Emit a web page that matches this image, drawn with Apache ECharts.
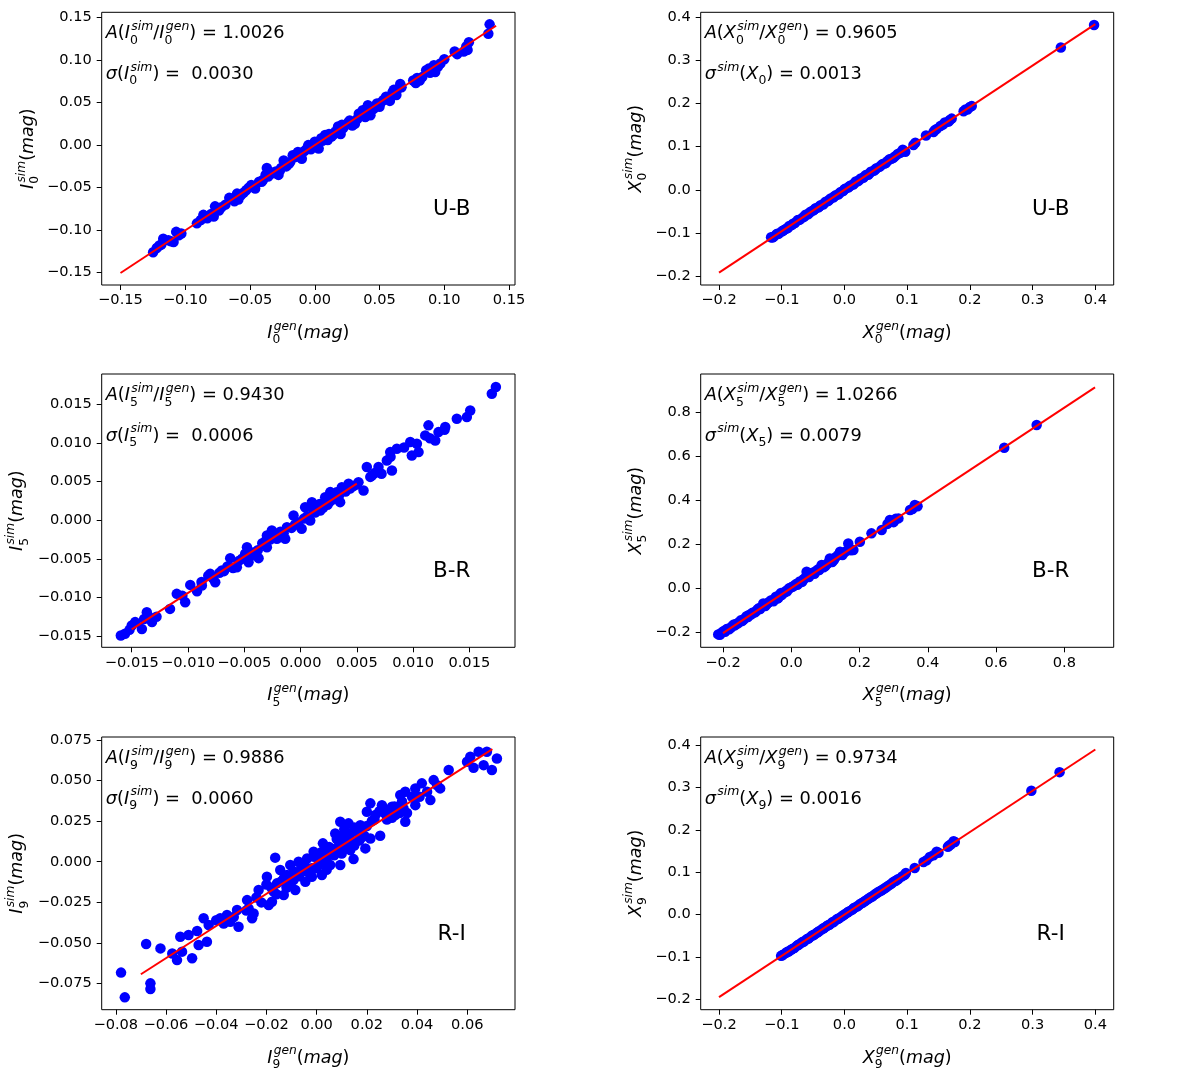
<!DOCTYPE html>
<html>
<head>
<meta charset="utf-8">
<script src="https://cdn.jsdelivr.net/npm/echarts@6.0.0/dist/echarts.min.js"></script>
<style>
html, body { margin: 0; padding: 0; background: #fff; }
#chart { width: 1200px; height: 1073px; }
</style>
</head>
<body>
<div id="chart"></div>
<script>
// ---- data ----
// U-B, I0
let ubIGen = [-0.1248,-0.122,-0.1185,-0.117,-0.113,-0.109,-0.107,-0.103,-0.091,-0.086,-0.083,-0.078,-0.077,-0.072,-0.069,-0.066,-0.062,-0.060,-0.059,-0.055,-0.053,-0.049,-0.046,-0.043,-0.040,-0.037,-0.036,-0.034,-0.032,-0.028,-0.026,-0.024,-0.022,-0.019,-0.017,-0.013,-0.010,-0.008,-0.005,-0.002,0.000,0.003,0.006,0.008,0.010,0.013,0.016,0.018,0.020,0.022,0.024,0.026,0.029,0.031,0.034,0.037,0.039,0.041,0.043,0.046,0.048,0.050,0.053,0.055,0.058,0.061,0.063,0.066,0.067,0.076,0.078,0.081,0.086,0.089,0.092,0.093,0.097,0.108,0.115,0.117,0.119,0.134,0.135,
  -0.120,-0.111,-0.105,-0.088,-0.080,-0.074,-0.064,-0.057,-0.051,-0.047,-0.041,-0.038,-0.030,-0.027,-0.020,-0.015,-0.011,-0.006,-0.003,0.002,0.005,0.011,0.015,0.021,0.027,0.033,0.036,0.040,0.045,0.051,0.056,0.060,0.064,0.079,0.083,0.088,0.095,0.100,0.110,0.118];
let ubISim = [-0.126,-0.121,-0.117,-0.110,-0.112,-0.114,-0.102,-0.104,-0.092,-0.082,-0.086,-0.084,-0.072,-0.073,-0.070,-0.062,-0.066,-0.057,-0.064,-0.056,-0.053,-0.047,-0.051,-0.043,-0.041,-0.027,-0.037,-0.032,-0.033,-0.035,-0.027,-0.018,-0.025,-0.020,-0.012,-0.008,-0.016,-0.007,0.000,-0.002,0.004,-0.004,0.005,0.012,0.006,0.010,0.016,0.022,0.013,0.020,0.024,0.027,0.023,0.025,0.037,0.041,0.033,0.047,0.035,0.044,0.049,0.045,0.053,0.057,0.052,0.065,0.059,0.072,0.068,0.076,0.073,0.076,0.088,0.085,0.094,0.086,0.096,0.110,0.110,0.116,0.121,0.131,0.142,
  -0.118,-0.113,-0.106,-0.088,-0.081,-0.077,-0.063,-0.059,-0.050,-0.049,-0.043,-0.035,-0.031,-0.030,-0.022,-0.014,-0.010,-0.004,-0.005,0.001,0.008,0.013,0.013,0.024,0.029,0.031,0.038,0.043,0.042,0.050,0.054,0.062,0.066,0.079,0.080,0.090,0.092,0.101,0.107,0.112];
// U-B, X0
let ubXGen = [-0.117,-0.113,-0.109,-0.105,-0.100,-0.096,-0.092,-0.088,-0.084,-0.079,-0.075,-0.071,-0.066,-0.062,-0.058,-0.054,-0.050,-0.046,-0.042,-0.038,-0.034,-0.030,-0.026,-0.022,-0.018,-0.014,-0.010,-0.006,-0.002,0.002,0.006,0.010,0.014,0.018,0.022,0.026,0.030,0.034,0.038,0.042,0.047,0.051,0.056,0.061,0.066,0.072,0.078,0.085,0.093,0.097,0.110,0.113,0.130,0.142,0.147,0.153,0.160,0.166,0.171,0.190,0.196,0.200,0.203,0.345,0.398,
  -0.115,-0.107,-0.098,-0.090,-0.082,-0.073,-0.064,-0.056,-0.048,-0.040,-0.032,-0.024,-0.016,-0.008,0.000,0.008,0.016,0.024,0.032,0.040,0.049,0.058,0.064,0.069,0.075,0.081,0.089,0.144,0.157,0.168,0.193];
let ubXSim = [-0.110,-0.109,-0.104,-0.102,-0.097,-0.093,-0.090,-0.084,-0.082,-0.077,-0.071,-0.069,-0.064,-0.058,-0.057,-0.051,-0.048,-0.043,-0.041,-0.036,-0.034,-0.028,-0.026,-0.020,-0.018,-0.013,-0.011,-0.005,-0.003,0.003,0.005,0.010,0.012,0.019,0.020,0.026,0.028,0.034,0.035,0.042,0.044,0.050,0.053,0.060,0.062,0.071,0.074,0.083,0.093,0.088,0.104,0.109,0.126,0.134,0.141,0.148,0.156,0.158,0.165,0.182,0.186,0.192,0.194,0.330,0.382,
  -0.111,-0.102,-0.095,-0.088,-0.079,-0.070,-0.062,-0.054,-0.046,-0.039,-0.031,-0.023,-0.015,-0.008,0.001,0.008,0.015,0.023,0.031,0.038,0.047,0.056,0.061,0.067,0.072,0.078,0.086,0.138,0.151,0.162,0.186];
// B-R, I5
let brIGen = [-0.01597,-0.0156,-0.0150,-0.0147,-0.0141,-0.01366,-0.0134,-0.0132,-0.0116,-0.0110,-0.01025,-0.0098,-0.0092,-0.00877,-0.0082,-0.00803,-0.00758,-0.0072,-0.00699,-0.0065,-0.00625,-0.0060,-0.00566,-0.0052,-0.00492,-0.00476,-0.00462,-0.0042,-0.00373,-0.0034,-0.00299,-0.00299,-0.0027,-0.00255,-0.0021,-0.0018,-0.00136,-0.00121,-0.0008,-0.00062,-0.0002,0.0001,0.00041,0.0006,0.00086,0.00101,0.0013,0.00175,0.0020,0.00219,0.0024,0.00264,0.0029,0.0032,0.00352,0.00367,0.0040,0.00427,0.0047,0.00515,0.0056,0.00589,0.0062,0.00634,0.00693,0.0072,0.00767,0.00797,0.00812,0.00856,0.00975,0.00989,0.01034,0.01049,0.01108,0.01137,0.01197,0.01226,0.01286,0.01389,0.01478,0.01508,0.0170,0.01736,
  -0.0152,-0.0139,-0.0128,-0.0105,-0.0088,-0.0078,-0.0068,-0.0055,-0.0045,-0.0038,-0.0031,-0.0024,-0.0015,-0.0005,0.0003,0.0011,0.0017,0.0026,0.0034,0.0044,0.0050,0.0066,0.0080,0.0092,0.0115,0.0128];
let brISim = [-0.01494,-0.0147,-0.01364,-0.0132,-0.01408,-0.01192,-0.0126,-0.0132,-0.01149,-0.00954,-0.01062,-0.00838,-0.0092,-0.00846,-0.0072,-0.00695,-0.00803,-0.0068,-0.00652,-0.0060,-0.00492,-0.0062,-0.00609,-0.0050,-0.00436,-0.0035,-0.00544,-0.0042,-0.00492,-0.0030,-0.00199,-0.0035,-0.0025,-0.00134,-0.00242,-0.0015,-0.00242,-0.00091,-0.0010,0.0006,-0.0003,-0.00112,0.00168,0.0005,-0.00004,0.00233,0.0010,0.00125,0.0016,0.00298,0.0020,0.00363,0.0027,0.0036,0.00233,0.00427,0.0037,0.00471,0.0044,0.00492,0.00384,0.00687,0.0056,0.00579,0.00687,0.0060,0.00773,0.00881,0.00643,0.00924,0.01011,0.00838,0.00989,0.00881,0.01097,0.01227,0.01032,0.0114,0.01205,0.01313,0.01334,0.0142,0.01636,0.01723,
  -0.0142,-0.0128,-0.0125,-0.0098,-0.0080,-0.0075,-0.0066,-0.0053,-0.0047,-0.0039,-0.0027,-0.0018,-0.0017,-0.0006,0.0002,0.0014,0.0021,0.0024,0.0031,0.0041,0.0046,0.0061,0.0082,0.0094,0.0106,0.0117];
// B-R, X5
let brXGen = [-0.214,-0.205,-0.198,-0.190,-0.182,-0.172,-0.165,-0.156,-0.148,-0.140,-0.131,-0.124,-0.118,-0.110,-0.102,-0.095,-0.088,-0.082,-0.076,-0.068,-0.060,-0.052,-0.045,-0.038,-0.030,-0.028,-0.020,-0.012,-0.005,0.002,0.010,0.018,0.025,0.032,0.040,0.045,0.052,0.060,0.068,0.075,0.082,0.089,0.095,0.105,0.113,0.120,0.130,0.143,0.150,0.167,0.175,0.182,0.201,0.235,0.265,0.289,0.300,0.314,0.348,0.362,0.370,0.624,0.719,
  -0.209,-0.201,-0.194,-0.186,-0.177,-0.168,-0.160,-0.152,-0.144,-0.135,-0.127,-0.114,-0.106,-0.099,-0.091,-0.072,-0.064,-0.056,-0.041,-0.034,-0.016,-0.008,0.006,0.014,0.021,0.036,0.048,0.056,0.064,0.071,0.079,0.100,0.109,0.125,0.137,0.158,0.282,0.306,0.355];
let brXSim = [-0.211,-0.205,-0.196,-0.188,-0.188,-0.172,-0.170,-0.160,-0.147,-0.144,-0.128,-0.123,-0.121,-0.112,-0.105,-0.092,-0.087,-0.070,-0.082,-0.067,-0.057,-0.060,-0.040,-0.045,-0.022,-0.032,-0.020,-0.015,0.000,0.005,0.012,0.015,0.030,0.028,0.045,0.074,0.050,0.068,0.065,0.080,0.082,0.105,0.095,0.110,0.135,0.118,0.140,0.165,0.150,0.203,0.172,0.173,0.211,0.249,0.264,0.310,0.300,0.317,0.355,0.378,0.372,0.639,0.742,
  -0.213,-0.200,-0.199,-0.185,-0.181,-0.166,-0.162,-0.155,-0.150,-0.137,-0.132,-0.113,-0.110,-0.098,-0.095,-0.074,-0.063,-0.055,-0.048,-0.030,-0.014,-0.004,0.008,0.018,0.022,0.040,0.052,0.060,0.070,0.075,0.085,0.100,0.115,0.128,0.150,0.165,0.292,0.315,0.360];
// R-I, I9
let riIGen = [-0.0779,-0.0764,-0.0679,-0.0662,-0.0662,-0.0622,-0.0575,-0.0556,-0.0543,-0.0536,-0.0510,-0.0496,-0.0476,-0.0470,-0.0450,-0.0437,-0.0430,-0.0384,-0.0357,-0.0344,-0.0317,-0.0311,-0.0277,-0.0271,-0.0257,-0.0251,-0.0231,-0.0198,-0.0191,-0.0178,-0.0171,-0.0165,-0.0158,-0.0145,-0.0131,-0.0118,-0.0105,-0.0092,-0.0085,-0.0072,-0.0058,-0.0045,-0.0038,-0.0019,-0.0012,0.0008,0.0021,0.0025,0.0048,0.0054,0.0074,0.0081,0.0094,0.0094,0.0114,0.0127,0.0134,0.0147,0.0167,0.0174,0.0194,0.0200,0.0214,0.0214,0.0234,0.0253,0.0260,0.0280,0.0300,0.0313,0.0333,0.0346,0.0353,0.0353,0.0393,0.0393,0.0419,0.0453,0.0466,0.0492,0.0526,0.0599,0.0612,0.0625,0.0645,0.0665,0.0678,0.0698,0.0718,
  -0.010,-0.006,-0.002,0.001,0.004,0.006,0.009,0.010,0.012,0.015,0.017,0.019,-0.014,-0.020,-0.012,0.003,0.011,0.016,0.022,0.027,0.030,0.033,
  -0.028,-0.024,-0.022,-0.018,-0.016,-0.013,-0.011,-0.009,-0.007,-0.005,-0.003,-0.001,0.000,0.002,0.004,0.005,0.007,0.008,0.010,0.011,0.013,0.014,0.015,0.017,0.018,0.020,0.023,0.025,0.028,0.031,0.034,0.036,0.038,0.041,0.044,0.048,-0.033,-0.037,-0.040];
let riISim = [-0.0682,-0.0834,-0.0506,-0.0748,-0.0783,-0.0533,-0.0564,-0.0605,-0.0461,-0.0553,-0.0451,-0.0594,-0.0426,-0.0512,-0.0348,-0.0492,-0.0389,-0.0348,-0.0328,-0.0369,-0.0297,-0.0400,-0.0236,-0.0287,-0.0348,-0.0318,-0.0174,-0.0092,-0.0266,-0.0246,-0.0184,0.0025,-0.0133,-0.0051,-0.0205,-0.0082,-0.0020,-0.0113,-0.0174,0.0000,-0.0061,-0.0123,0.0020,-0.0092,0.0061,-0.0020,-0.0082,0.0113,0.0041,-0.0020,0.0174,0.0082,0.0246,-0.0020,0.0123,0.0236,0.0072,0.0016,0.0174,0.0225,0.0082,0.0307,0.0359,0.0143,0.0287,0.0160,0.0348,0.0318,0.0338,0.0287,0.0410,0.0328,0.0430,0.0246,0.0348,0.0451,0.0482,0.0379,0.0502,0.0451,0.0564,0.0615,0.0646,0.0578,0.0676,0.0594,0.0676,0.0564,0.0635,
  -0.008,-0.003,-0.004,0.003,-0.005,0.008,0.012,0.005,0.018,0.010,0.013,0.016,-0.012,-0.014,-0.016,0.000,0.020,0.019,0.025,0.030,0.027,0.030,
  -0.030,-0.022,-0.025,-0.016,-0.020,-0.010,-0.014,-0.006,-0.009,-0.001,-0.007,0.003,-0.004,0.006,0.002,0.009,0.004,0.014,0.016,0.009,0.016,0.012,0.021,0.019,0.015,0.022,0.026,0.031,0.026,0.034,0.037,0.030,0.040,0.040,0.043,0.047,-0.034,-0.038,-0.036];
// R-I, X9
let riXGen = [-0.101,-0.097,-0.093,-0.089,-0.085,-0.080,-0.076,-0.072,-0.068,-0.064,-0.060,-0.056,-0.052,-0.048,-0.044,-0.040,-0.036,-0.032,-0.028,-0.024,-0.020,-0.016,-0.012,-0.008,-0.004,0.000,0.004,0.008,0.012,0.016,0.020,0.025,0.030,0.035,0.040,0.045,0.050,0.055,0.060,0.066,0.072,0.078,0.083,0.096,0.098,0.112,0.126,0.131,0.136,0.142,0.147,0.165,0.170,0.174,0.298,0.343,
  -0.099,-0.091,-0.083,-0.074,-0.066,-0.058,-0.050,-0.042,-0.034,-0.026,-0.018,-0.010,-0.002,0.006,0.014,0.022,0.028,0.033,0.038,0.043,0.048,0.053,0.058,0.063,0.069,0.075,0.081,0.086,0.092,0.150,0.167,0.176];
let riXSim = [-0.0975,-0.094,-0.090,-0.087,-0.083,-0.079,-0.074,-0.070,-0.066,-0.063,-0.058,-0.055,-0.050,-0.047,-0.043,-0.039,-0.035,-0.031,-0.027,-0.024,-0.019,-0.016,-0.011,-0.008,-0.004,0.000,0.004,0.008,0.011,0.016,0.019,0.025,0.029,0.034,0.039,0.043,0.049,0.054,0.058,0.064,0.070,0.077,0.081,0.094,0.098,0.110,0.124,0.128,0.136,0.140,0.148,0.160,0.166,0.173,0.292,0.336,
  -0.096,-0.088,-0.081,-0.072,-0.064,-0.057,-0.049,-0.041,-0.033,-0.025,-0.018,-0.010,-0.002,0.006,0.014,0.021,0.027,0.032,0.037,0.042,0.047,0.052,0.056,0.061,0.067,0.073,0.079,0.084,0.090,0.146,0.163,0.171];

// fitted lines (end points)
let ubIFitX = [-0.15, 0.14],   ubIFitY = [-0.1504, 0.1404];
let ubXFitX = [-0.2, 0.4],     ubXFitY = [-0.1921, 0.3842];
let brIFitX = [-0.015, 0.005], brIFitY = [-0.01415, 0.00472];
let brXFitX = [-0.2, 0.89],    brXFitY = [-0.2053, 0.9137];
let riIFitX = [-0.07, 0.07],   riIFitY = [-0.0692, 0.0692];
let riXFitX = [-0.2, 0.4],     riXFitY = [-0.1947, 0.3894];

// tick labels
let ticksI0 = [-0.15, -0.10, -0.05, 0, 0.05, 0.10, 0.15];
let ticksX0 = [-0.2, -0.1, 0, 0.1, 0.2, 0.3, 0.4];
let ticksI5 = [-0.015, -0.010, -0.005, 0, 0.005, 0.010, 0.015];
let ticksX5 = [-0.2, 0, 0.2, 0.4, 0.6, 0.8];
let ticksI9x = [-0.08, -0.06, -0.04, -0.02, 0, 0.02, 0.04, 0.06];
let ticksI9y = [-0.075, -0.050, -0.025, 0, 0.025, 0.050, 0.075];
let ticksX9 = [-0.2, -0.1, 0, 0.1, 0.2, 0.3, 0.4];

let bandNames = ['U-B', 'B-R', 'R-I'];
let indexNames = ['0', '5', '9'];
let ampValues = ['1.0026', '0.9605', '0.9430', '1.0266', '0.9886', '0.9734'];
let sigmaValues = ['0.0030', '0.0013', '0.0006', '0.0079', '0.0060', '0.0016'];

// ---- layout ----
const FONT = 'DejaVu Sans';
const LEFT = [101.7, 700.7], WIDTH = [413.3, 413];
const TOP = [12.3, 374, 737], HEIGHT = [272.7, 273.3, 272.7];

const panels = [
  {row: 0, col: 0, sym: 'I', gen: ubIGen, sim: ubISim, fx: ubIFitX, fy: ubIFitY, xr: [-0.1645, 0.1546], yr: [-0.1645, 0.1562], xt: ticksI0, yt: ticksI0, xd: 2, yd: 2, ylab: -67.2},
  {row: 0, col: 1, sym: 'X', gen: ubXGen, sim: ubXSim, fx: ubXFitX, fy: ubXFitY, xr: [-0.2292, 0.4293], yr: [-0.2209, 0.4116], xt: ticksX0, yt: ticksX0, xd: 1, yd: 1, ylab: -58.5},
  {row: 1, col: 0, sym: 'I', gen: brIGen, sim: brISim, fx: brIFitX, fy: brIFitY, xr: [-0.01767, 0.01906], yr: [-0.01646, 0.01892], xt: ticksI5, yt: ticksI5, xd: 3, yd: 3, ylab: -77.9},
  {row: 1, col: 1, sym: 'X', gen: brXGen, sim: brXSim, fx: brXFitX, fy: brXFitY, xr: [-0.2653, 0.9447], yr: [-0.2697, 0.9743], xt: ticksX5, yt: ticksX5, xd: 1, yd: 1, ylab: -58.5},
  {row: 2, col: 0, sym: 'I', gen: riIGen, sim: riISim, fx: riIFitX, fy: riIFitY, xr: [-0.0856, 0.0790], yr: [-0.0910, 0.0767], xt: ticksI9x, yt: ticksI9y, xd: 2, yd: 3, ylab: -77.9},
  {row: 2, col: 1, sym: 'X', gen: riXGen, sim: riXSim, fx: riXFitX, fy: riXFitY, xr: [-0.2292, 0.4293], yr: [-0.2245, 0.4189], xt: ticksX9, yt: ticksX9, xd: 1, yd: 1, ylab: -58.5}
];

function fmt(v, d) {
  return v.toFixed(d).replace('-', '\u2212');
}

// ---- small mathtext-like layout with sub/superscripts ----
const mctx = document.createElement('canvas').getContext('2d');
function tw(t, size, it) {
  mctx.font = (it ? 'italic ' : '') + size + 'px "' + FONT + '"';
  return mctx.measureText(t).width;
}
function layoutMath(tokens, size) {
  let x = 0;
  const pieces = [];
  const small = size * 0.7;
  tokens.forEach(function (tk) {
    pieces.push({t: tk.t, x: x, dy: 0, size: size, it: tk.it});
    x += tw(tk.t, size, tk.it);
    if (tk.sub || tk.sup) {
      let w = 0;
      if (tk.sub) {
        const subIt = !/^\d+$/.test(tk.sub);
        pieces.push({t: tk.sub, x: x, dy: 0.28 * size, size: small, it: subIt});
        w = Math.max(w, tw(tk.sub, small, subIt));
      }
      if (tk.sup) {
        const off = tk.it ? 0.07 * size : 0;
        pieces.push({t: tk.sup, x: x + off, dy: -0.5 * size, size: small, it: true});
        w = Math.max(w, off + tw(tk.sup, small, true));
      }
      x += w;
    }
  });
  return {pieces: pieces, width: x};
}
function mathGraphic(tokens, size, x, y, align, rotation) {
  const m = layoutMath(tokens, size);
  const x0 = align === 'center' ? -m.width / 2 : 0;
  return {
    type: 'group', x: x, y: y, rotation: rotation || 0, silent: true,
    children: m.pieces.map(function (p) {
      return {
        type: 'text', x: x0 + p.x, y: p.dy - 0.346 * p.size,
        style: {
          text: p.t, fontSize: p.size, fontFamily: FONT,
          fontStyle: p.it ? 'italic' : 'normal', fill: '#000',
          align: 'left', verticalAlign: 'middle'
        }
      };
    })
  };
}

const grids = [], xAxes = [], yAxes = [], series = [], graphics = [];
panels.forEach(function (p, i) {
  const left = LEFT[p.col], top = TOP[p.row], w = WIDTH[p.col], h = HEIGHT[p.row];
  const idx = indexNames[p.row];
  grids.push({left: left, top: top, width: w, height: h, show: true, borderColor: '#000', borderWidth: 1,
    backgroundColor: 'transparent', containLabel: false, outerBoundsMode: 'none'});
  const axisCommon = function (ticks, d, range, margin) {
    return {
      type: 'value', gridIndex: i, min: range[0], max: range[1],
      axisLine: {show: false, onZero: false},
      splitLine: {show: false},
      axisTick: {show: true, length: 5, customValues: ticks, lineStyle: {color: '#000', width: 1}},
      axisLabel: {customValues: ticks, color: '#000', fontSize: 14.6, fontFamily: FONT, margin: margin,
        formatter: function (v) { return fmt(v, d); }}
    };
  };
  xAxes.push(axisCommon(p.xt, p.xd, p.xr, 8));
  yAxes.push(axisCommon(p.yt, p.yd, p.yr, 10));
  series.push({
    type: 'scatter', xAxisIndex: i, yAxisIndex: i, symbolSize: 10.5,
    itemStyle: {color: '#0000ff', opacity: 1},
    data: p.gen.map(function (g, k) { return [g, p.sim[k]]; }),
    z: 2
  });
  series.push({
    type: 'line', xAxisIndex: i, yAxisIndex: i, showSymbol: false, symbol: 'none',
    lineStyle: {color: '#ff0000', width: 2},
    data: p.fx.map(function (g, k) { return [g, p.fy[k]]; }),
    z: 3
  });

  // annotations
  const ampTokens = [
    {t: 'A', it: true}, {t: '(', it: false},
    {t: p.sym, it: true, sub: idx, sup: 'sim'}, {t: '/', it: false},
    {t: p.sym, it: true, sub: idx, sup: 'gen'}, {t: ')', it: false},
    {t: ' = ' + ampValues[i], it: false}
  ];
  const sigTokens = p.col === 0 ? [
    {t: '\u03c3', it: true}, {t: '(', it: false},
    {t: 'I', it: true, sub: idx, sup: 'sim'}, {t: ')', it: false},
    {t: ' =  ' + sigmaValues[i], it: false}
  ] : [
    {t: '\u03c3', it: true, sup: 'sim'}, {t: '(', it: false},
    {t: 'X', it: true, sub: idx}, {t: ')', it: false},
    {t: ' = ' + sigmaValues[i], it: false}
  ];
  graphics.push(mathGraphic(ampTokens, 17.8, left + 4, top + 27.6, 'left'));
  graphics.push(mathGraphic(sigTokens, 17.8, left + 4, top + 68.2, 'left'));
  graphics.push(mathGraphic([{t: bandNames[p.row], it: false}], 21.5, left + 350, top + 204.4, 'center'));
  graphics.push(mathGraphic([
    {t: p.sym, it: true, sub: idx, sup: 'gen'}, {t: '(', it: false}, {t: 'mag', it: true}, {t: ')', it: false}
  ], 17.5, left + w / 2, top + h + 54.5, 'center'));
  graphics.push(mathGraphic([
    {t: p.sym, it: true, sub: idx, sup: 'sim'}, {t: '(', it: false}, {t: 'mag', it: true}, {t: ')', it: false}
  ], 17.5, left + p.ylab, top + h / 2, 'center', Math.PI / 2));
});

const chart = echarts.init(document.getElementById('chart'), null, {renderer: 'canvas'});
chart.setOption({
  backgroundColor: '#fff',
  animation: false,
  grid: grids,
  xAxis: xAxes,
  yAxis: yAxes,
  series: series,
  graphic: graphics
});
</script>
</body>
</html>
